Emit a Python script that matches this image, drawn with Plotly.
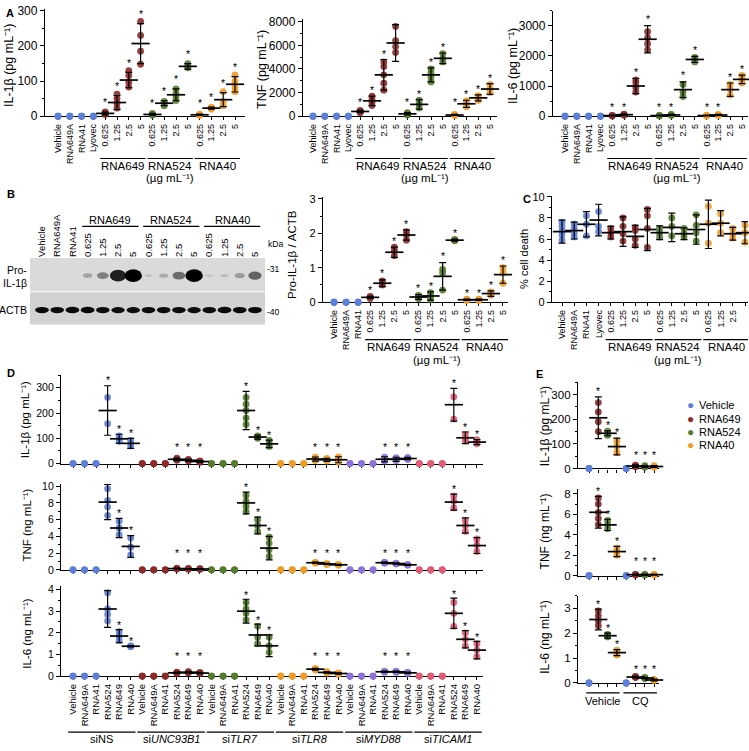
import plotly.graph_objects as go

W, H = 749, 751
FONT = "Liberation Sans, Arial, Helvetica, sans-serif"
BLUE, RED, GREEN, ORANGE, PURPLE, PINK = "#5C80D8", "#8C2A2A", "#547C2C", "#EE9B27", "#8E72DC", "#E25A74"
INV = "mL\u207b\u00b9"

# ---------------- data ----------------
A_labels = ["Vehicle", "RNA649A", "RNA41", "Lyovec", "0.625", "1.25", "2.5", "5",
            "0.625", "1.25", "2.5", "5", "0.625", "1.25", "2.5", "5"]
A_groups = ["RNA649", "RNA524", "RNA40"]
A_colors = [BLUE] * 4 + [RED] * 4 + [GREEN] * 4 + [ORANGE] * 4
A_sig = [0] * 4 + [1] * 12

A1_pts = [[0, 0, 0], [0, 0, 0], [0, 0, 0], [0, 0, 0],
          [5, 8, 12], [23, 37, 51, 63], [83, 97, 116, 130], [148, 185, 230, 270],
          [3, 5, 8], [30, 37, 42], [45, 55, 65, 78], [138, 142, 150],
          [2, 4, 6], [20, 23, 26], [30, 42, 70], [70, 82, 100, 118]]
A1_mean = [None] * 4 + [8, 39, 103, 207, 5, 37, 61, 142, 4, 23, 47, 91]
A1_sd = [0] * 4 + [4, 20, 22, 57, 3, 7, 17, 8, 2, 3, 20, 22]

A2_pts = [[0, 0, 0], [0, 0, 0], [0, 0, 0], [0, 0, 0],
          [300, 400, 500], [900, 1150, 1450, 1700], [2200, 2800, 3500, 4200, 4600], [5400, 5900, 6400, 7600],
          [100, 200, 300], [700, 1000, 1350], [2900, 3300, 3700, 4000], [4600, 4900, 5300],
          [50, 100, 150], [800, 1050, 1300], [1350, 1550, 1750], [2000, 2300, 2700]]
A2_mean = [None] * 4 + [400, 1300, 3500, 6200, 200, 1000, 3500, 4900, 100, 1050, 1550, 2300]
A2_sd = [0] * 4 + [100, 400, 1300, 1550, 100, 400, 600, 450, 50, 300, 250, 450]

A3_pts = [[0, 0, 0], [0, 0, 0], [0, 0, 0], [0, 0, 0],
          [10, 20, 30], [30, 50, 70], [800, 950, 1100, 1200], [2200, 2400, 2600, 2800],
          [10, 20, 30], [20, 40, 60], [650, 800, 1050], [1800, 1880, 1950],
          [10, 20, 30], [20, 40, 60], [700, 900, 1050], [1100, 1250, 1350]]
A3_mean = [None] * 4 + [20, 50, 1000, 2550, 20, 40, 880, 1880, 20, 40, 880, 1220]
A3_sd = [0] * 4 + [10, 20, 250, 450, 10, 20, 260, 100, 10, 20, 220, 140]

# Blot (panel B)
blot_lanes = ["Vehicle", "RNA649A", "RNA41", "0.625", "1.25", "2.5", "5",
              "0.625", "1.25", "2.5", "5", "0.625", "1.25", "2.5", "5"]
pro_intensity = [0, 0, 0, 0.25, 0.45, 0.9, 1.0, 0.07, 0.2, 0.55, 1.0, 0.05, 0.1, 0.3, 0.6]
actb_intensity = [0.9, 0.88, 0.92, 0.92, 0.88, 0.85, 0.85, 0.88, 0.88, 0.88, 0.85, 0.88, 0.92, 0.9, 0.9]

B_labels = blot_lanes
B_colors = [BLUE] * 3 + [RED] * 4 + [GREEN] * 4 + [ORANGE] * 4
B_sig = [0] * 3 + [1] * 12
B_pts = [[0, 0, 0], [0, 0, 0], [0, 0, 0],
         [0.11, 0.14, 0.17], [0.5, 0.55, 0.62], [1.35, 1.5, 1.6], [1.8, 1.95, 2.05],
         [0.1, 0.15, 0.2], [0.08, 0.18, 0.28], [0.35, 0.85, 0.95], [1.78, 1.8, 1.82],
         [0.05, 0.07, 0.09], [0.05, 0.07, 0.09], [0.2, 0.25, 0.3], [0.55, 0.85, 1.0]]
B_mean = [None] * 3 + [0.14, 0.55, 1.45, 1.95, 0.15, 0.18, 0.75, 1.8, 0.07, 0.07, 0.25, 0.8]
B_sd = [0] * 3 + [0.03, 0.1, 0.15, 0.15, 0.07, 0.12, 0.4, 0.03, 0.02, 0.02, 0.08, 0.25]

# Panel C (% cell death)
C_pts = [[5.9, 6.4, 6.8, 7.2, 7.6], [6.2, 6.6, 7.0, 7.4], [6.3, 7.4, 8.2], [6.7, 7.2, 8.6],
         [6.2, 6.6, 7.0], [5.8, 6.5, 7.2, 8.0], [5.4, 6.0, 6.8, 7.1], [5.2, 7.0, 8.2, 8.8],
         [6.2, 6.6, 7.0], [6.3, 7.2, 8.0], [6.2, 6.5, 7.0], [5.8, 6.6, 7.3, 8.3],
         [5.6, 7.5, 9.1], [6.6, 7.5, 8.4], [6.1, 6.5, 7.0], [5.7, 6.6, 7.3]]
C_mean = [6.7, 6.8, 7.4, 7.8, 6.6, 6.7, 6.25, 6.9, 6.6, 7.1, 6.5, 6.9, 7.4, 7.5, 6.5, 6.6]
C_sd = [1.1, 0.8, 1.2, 1.5, 0.6, 1.4, 1.05, 2.0, 0.65, 1.35, 0.55, 1.4, 2.3, 1.2, 0.6, 1.05]
C_sig = [0] * 16

# Panel D (siRNA knockdowns)
D_cats = ["Vehicle", "RNA649A", "RNA41", "RNA524", "RNA649", "RNA40"]
D_groups = ["siNS", "si<i>UNC93B1</i>", "si<i>TLR7</i>", "si<i>TLR8</i>", "si<i>MYD88</i>", "si<i>TICAM1</i>"]
D_group_colors = [BLUE, RED, GREEN, ORANGE, PURPLE, PINK]
D_sig = [0, 0, 0, 1, 1, 1] * 6

D1_pts = [[0, 0, 0], [0, 0, 0], [0, 0, 0], [158, 262], [88, 98, 110], [70, 80, 92],
          [0, 0, 0], [0, 0, 0], [0, 0, 0], [13, 17, 21], [10, 13, 16], [5, 8, 11],
          [0, 0, 0], [0, 0, 0], [0, 0, 0], [155, 180, 210, 235, 262], [100, 105, 110], [68, 78, 92],
          [0, 0, 0], [0, 0, 0], [0, 0, 0], [12, 18, 25], [10, 15, 20], [6, 15, 26],
          [0, 0, 0], [0, 0, 0], [0, 0, 0], [10, 17, 25], [11, 17, 23], [16, 20, 24],
          [0, 0, 0], [0, 0, 0], [0, 0, 0], [176, 264], [90, 102, 115], [78, 85, 95]]
D1_mean = [None, None, None, 210, 98, 80, None, None, None, 17, 13, 8,
           None, None, None, 210, 105, 78, None, None, None, 18, 15, 15,
           None, None, None, 17, 17, 20, None, None, None, 233, 102, 85]
D1_sd = [0, 0, 0, 98, 18, 20, 0, 0, 0, 5, 4, 4, 0, 0, 0, 76, 8, 15,
         0, 0, 0, 8, 6, 12, 0, 0, 0, 10, 8, 5, 0, 0, 0, 65, 23, 10]

D2_pts = [[0, 0, 0], [0, 0, 0], [0, 0, 0], [6.5, 7.5, 8.3, 9.7], [4.2, 5.0, 5.8], [1.8, 2.7, 3.8],
          [0, 0, 0], [0, 0, 0], [0, 0, 0], [0.1, 0.15, 0.2], [0.08, 0.12, 0.16], [0.06, 0.1, 0.14],
          [0, 0, 0], [0, 0, 0], [0, 0, 0], [7.0, 7.6, 8.2, 8.9], [4.6, 5.3, 6.0], [1.6, 2.4, 3.2, 3.9],
          [0, 0, 0], [0, 0, 0], [0, 0, 0], [0.8, 0.85, 0.9], [0.65, 0.7, 0.75], [0.55, 0.6, 0.65],
          [0, 0, 0], [0, 0, 0], [0, 0, 0], [0.78, 0.85, 0.92], [0.7, 0.75, 0.8], [0.55, 0.6, 0.65],
          [0, 0, 0], [0, 0, 0], [0, 0, 0], [7.4, 8.2, 8.8], [4.6, 5.3, 5.9], [2.2, 3.0, 3.7]]
D2_mean = [None, None, None, 8.1, 5.0, 2.8, None, None, None, 0.15, 0.12, 0.1,
           None, None, None, 8.0, 5.3, 2.6, None, None, None, 0.85, 0.7, 0.6,
           None, None, None, 0.85, 0.75, 0.6, None, None, None, 8.1, 5.3, 2.9]
D2_sd = [0, 0, 0, 2.1, 1.15, 1.3, 0, 0, 0, 0.05, 0.04, 0.04, 0, 0, 0, 1.3, 1.0, 1.4,
         0, 0, 0, 0.06, 0.06, 0.06, 0, 0, 0, 0.08, 0.08, 0.06, 0, 0, 0, 0.95, 0.9, 0.95]

D3_pts = [[0, 0, 0], [0, 0, 0], [0, 0, 0], [2.55, 2.85, 3.1, 3.85], [1.65, 1.85, 2.05], [1.36, 1.38, 1.4],
          [0, 0, 0], [0, 0, 0], [0, 0, 0], [0.12, 0.15, 0.18], [0.15, 0.18, 0.21], [0.11, 0.14, 0.17],
          [0, 0, 0], [0, 0, 0], [0, 0, 0], [2.6, 2.9, 3.1, 3.4], [1.5, 1.8, 2.3], [1.1, 1.4, 1.8],
          [0, 0, 0], [0, 0, 0], [0, 0, 0], [0.28, 0.32, 0.36], [0.14, 0.17, 0.2], [0.09, 0.12, 0.15],
          [0, 0, 0], [0, 0, 0], [0, 0, 0], [0.17, 0.2, 0.23], [0.17, 0.2, 0.23], [0.12, 0.15, 0.18],
          [0, 0, 0], [0, 0, 0], [0, 0, 0], [2.3, 2.9, 3.4], [1.4, 1.7, 2.0], [0.9, 1.2, 1.5]]
D3_mean = [None, None, None, 3.1, 1.85, 1.38, None, None, None, 0.15, 0.18, 0.14,
           None, None, None, 3.0, 1.9, 1.4, None, None, None, 0.32, 0.17, 0.12,
           None, None, None, 0.2, 0.2, 0.15, None, None, None, 2.9, 1.7, 1.2]
D3_sd = [0, 0, 0, 0.85, 0.3, 0.03, 0, 0, 0, 0.03, 0.03, 0.03, 0, 0, 0, 0.55, 0.5, 0.5,
         0, 0, 0, 0.04, 0.03, 0.03, 0, 0, 0, 0.03, 0.03, 0.03, 0, 0, 0, 0.7, 0.4, 0.4]

# Panel E (chloroquine)
E_groups = ["Vehicle", "CQ"]
E_series = ["Vehicle", "RNA649", "RNA524", "RNA40"]
E_series_colors = [BLUE, RED, GREEN, ORANGE]
E_sig = [0, 1, 1, 1] * 2
E1_pts = [[0, 0, 0], [150, 190, 230, 268], [135, 143, 152], [65, 90, 112],
          [0, 0, 0], [7, 10, 13], [5, 8, 11], [5, 8, 11]]
E1_mean = [None, 206, 143, 89, None, 10, 8, 8]
E1_sd = [0, 85, 10, 34, 0, 5, 4, 4]
E2_pts = [[0, 0, 0], [5.0, 5.6, 6.2, 7.0, 7.6], [4.6, 5.0, 5.4], [2.0, 2.4, 2.7],
          [0, 0, 0], [0.08, 0.1, 0.12], [0.08, 0.1, 0.12], [0.08, 0.1, 0.12]]
E2_mean = [None, 6.2, 4.97, 2.36, None, 0.1, 0.1, 0.1]
E2_sd = [0, 1.55, 0.55, 0.5, 0, 0.03, 0.03, 0.03]
E3_pts = [[0, 0, 0], [2.3, 2.5, 2.7, 2.9], [1.85, 1.9, 1.95], [1.12, 1.22, 1.32],
          [0, 0, 0], [0.22, 0.24, 0.26], [0.18, 0.2, 0.22], [0.1, 0.12, 0.14]]
E3_mean = [None, 2.55, 1.9, 1.22, None, 0.24, 0.2, 0.12]
E3_sd = [0, 0.42, 0.1, 0.12, 0, 0.03, 0.03, 0.04]

# ---------------- helpers ----------------
def fx(px):
    return px / W


def fy(py):
    return 1 - py / H


fig = go.Figure()
layout = {}
shapes = []
annots = []


def xname(i):
    return "x" if i == 1 else f"x{i}"


def yname(i):
    return "y" if i == 1 else f"y{i}"


def make_axes(i, xl, xf, sp, n, xr, y0, ppu, ymax, dtick, mdtick,
              ticktext=None, tfs=9, yfs=11):
    xlast = xf + (n - 1) * sp
    xrange = [-(xf - xl) / sp, (n - 1) + (xr - xlast) / sp]
    ytop = y0 - ymax * ppu
    xa = dict(domain=[fx(xl), fx(xr)], range=xrange, anchor=yname(i), showline=True,
              linecolor="black", linewidth=1.3, ticks="outside", ticklen=3, tickwidth=1,
              tickcolor="black", tickvals=list(range(n)), showgrid=False, zeroline=False,
              layer="below traces", fixedrange=True)
    if ticktext is not None:
        xa.update(ticktext=ticktext, tickangle=-90, showticklabels=True,
                  tickfont=dict(size=tfs, color="black", family=FONT))
    else:
        xa.update(showticklabels=False)
    ya = dict(domain=[fy(y0), fy(ytop)], range=[0, ymax], anchor=xname(i), showline=True,
              linecolor="black", linewidth=1.3, ticks="outside", ticklen=4, tickwidth=1,
              tickcolor="black", tick0=0, dtick=dtick, showgrid=False, zeroline=False,
              tickfont=dict(size=yfs, color="black", family=FONT), layer="below traces",
              minor=dict(dtick=mdtick, ticks="outside", ticklen=2, tickcolor="black", showgrid=False),
              fixedrange=True)
    layout["xaxis" if i == 1 else f"xaxis{i}"] = xa
    layout["yaxis" if i == 1 else f"yaxis{i}"] = ya


def dot_panel(i, pts, means, sds, colors, sig, ymax, gap, floor, msize=6.8):
    xs, ys, cs = [], [], []
    for k, p in enumerate(pts):
        for v in p:
            xs.append(k)
            ys.append(v)
            cs.append(colors[k])
    fig.add_trace(go.Scatter(x=xs, y=ys, mode="markers", xaxis=xname(i), yaxis=yname(i),
                             marker=dict(size=msize, color=cs, opacity=0.9, line=dict(width=0)),
                             cliponaxis=False, showlegend=False, hoverinfo="skip"))
    mx = [k for k, m in enumerate(means) if m is not None]
    fig.add_trace(go.Scatter(x=mx, y=[means[k] for k in mx], mode="markers",
                             xaxis=xname(i), yaxis=yname(i),
                             marker=dict(symbol="line-ew", size=13, color="black",
                                         line=dict(width=1.7, color="black")),
                             error_y=dict(type="data", array=[sds[k] for k in mx], visible=True,
                                          color="black", thickness=1.2, width=3.5),
                             cliponaxis=False, showlegend=False, hoverinfo="skip"))
    for k in mx:
        if sig[k]:
            annots.append(dict(x=k, y=max(means[k] + sds[k] + gap * ymax, floor * ymax),
                               xref=xname(i), yref=yname(i), text="*", showarrow=False,
                               xanchor="center", yanchor="middle",
                               font=dict(size=10.5, color="black", family=FONT)))


def text(x, y, s, size=10.5, angle=0, xanchor="center", bold=False, yanchor="middle", xref="paper"):
    annots.append(dict(x=x if xref != "paper" else fx(x), y=fy(y), xref=xref, yref="paper",
                       text=f"<b>{s}</b>" if bold else s, showarrow=False,
                       textangle=angle, xanchor=xanchor, yanchor=yanchor,
                       font=dict(size=size, color="black", family=FONT)))


def group_line(i, a, b, py, pad=0.42):
    shapes.append(dict(type="line", xref=xname(i), yref="paper", x0=a - pad, x1=b + pad,
                       y0=fy(py), y1=fy(py), line=dict(color="black", width=1.2)))


# ---------------- panel A ----------------
make_axes(1, 45, 58, 11.8, 16, 245, 113, 107 / 300, 305, 100, 50, A_labels, 9, yfs=12)
make_axes(2, 303, 313, 11.8, 16, 497, 113, 96 / 8000, 8200, 2000, 1000, A_labels, 9, yfs=12)
make_axes(3, 553, 565, 11.8, 16, 748, 113, 92 / 3000, 3500, 1000, 500, A_labels, 9, yfs=12)
dot_panel(1, A1_pts, A1_mean, A1_sd, A_colors, A_sig, 305, 0.09, 0.12)
dot_panel(2, A2_pts, A2_mean, A2_sd, A_colors, A_sig, 8200, 0.06, 0.15)
dot_panel(3, A3_pts, A3_mean, A3_sd, A_colors, A_sig, 3500, 0.06, 0.085)
for i in (1, 2, 3):
    for g, name in enumerate(A_groups):
        a, b = 4 + 4 * g, 7 + 4 * g
        group_line(i, a, b, 156)
        text((a + b) / 2, 164, name, 11.5, xref=xname(i))
    text(9.5, 176, f"(µg {INV})", 11.5, xref=xname(i))
text(9, 62, f"IL-1β (pg {INV})", 12.5, -90)
text(262, 66, f"TNF (pg {INV})", 12.5, -90)
text(513, 62, f"IL-6 (pg {INV})", 12.5, -90)

# ---------------- panel B: blot ----------------
nl = len(blot_lanes)
xl, xf, sp, xr = 30, 42, 15.21, 265
bx0 = -(xf - xl) / sp
bx1 = (nl - 1) + (xr - (xf + (nl - 1) * sp)) / sp
layout["xaxis4"] = dict(domain=[fx(xl), fx(xr)], range=[bx0, bx1],
                        anchor="y4", side="top", tickvals=list(range(nl)), ticktext=blot_lanes,
                        tickangle=-90, ticks="", showline=False, showgrid=False, zeroline=False,
                        tickfont=dict(size=9.5, color="black", family=FONT), fixedrange=True)
layout["yaxis4"] = dict(domain=[fy(325), fy(257)], range=[0, 2], visible=False, anchor="x4",
                        fixedrange=True)
shapes.append(dict(type="rect", xref="x4", yref="y4", x0=bx0, x1=bx1,
                   y0=1.0, y1=2.0, fillcolor="#dadada", line=dict(width=0), layer="below"))
shapes.append(dict(type="rect", xref="x4", yref="y4", x0=bx0, x1=bx1,
                   y0=0.0, y1=0.97, fillcolor="#d2d2d2", line=dict(width=0), layer="below"))
for k in range(nl):
    I = pro_intensity[k]
    if I > 0:
        g = round(205 * (1 - I) ** 0.8)
        w = 0.45 + 0.7 * I
        h = 0.06 + 0.32 * I
        shapes.append(dict(type="circle", xref="x4", yref="y4", x0=k - w / 2, x1=k + w / 2,
                           y0=1.47 - h / 2, y1=1.47 + h / 2, fillcolor=f"rgb({g},{g},{g})",
                           line=dict(width=0)))
    J = actb_intensity[k]
    g = round(90 * (1 - J))
    w = 0.5 + 0.45 * J
    h = 0.1 + 0.1 * J
    shapes.append(dict(type="circle", xref="x4", yref="y4", x0=k - w / 2, x1=k + w / 2,
                       y0=0.44 - h / 2, y1=0.44 + h / 2, fillcolor=f"rgb({g},{g},{g})",
                       line=dict(width=0)))
for g, name in enumerate(A_groups):
    a, b = 3 + 4 * g, 6 + 4 * g
    group_line(4, a, b, 225, pad=0.35)
    text((a + b) / 2, 218, name, 11, xref="x4")
text(29, 269, "Pro-", 10.5, xanchor="right")
text(29, 283, "IL-1β", 10.5, xanchor="right")
text(29, 310, "ACTB", 10.5, xanchor="right")
text(266, 243, "kDa", 8.5, xanchor="left")
text(265, 268, "-31", 8.5, xanchor="left")
text(265, 312, "-40", 8.5, xanchor="left")

# ---------------- panel B: quantification ----------------
make_axes(5, 323, 334, 12.07, 15, 508, 302, 35, 3.05, 1, 0.5, B_labels, 9, yfs=11)
dot_panel(5, B_pts, B_mean, B_sd, B_colors, B_sig, 3.05, 0.06, 0.075)
for g, name in enumerate(A_groups):
    a, b = 3 + 4 * g, 6 + 4 * g
    group_line(5, a, b, 340)
    text((a + b) / 2, 348, name, 11.5, xref="x5")
text(8.5, 361, f"(µg {INV})", 11.5, xref="x5")
text(292, 254, "Pro-IL-1β / ACTB", 11.5, -90)

# ---------------- panel C ----------------
make_axes(6, 552, 562, 12.2, 16, 748, 302, 10.7, 10.1, 2, 1, A_labels, 9, yfs=11)
dot_panel(6, C_pts, C_mean, C_sd, A_colors, C_sig, 10.1, 0.06, 0.1)
for g, name in enumerate(A_groups):
    a, b = 4 + 4 * g, 7 + 4 * g
    group_line(6, a, b, 340)
    text((a + b) / 2, 348, name, 11.5, xref="x6")
text(9.5, 361, f"(µg {INV})", 11.5, xref="x6")
text(524, 258, "% cell death", 11, -90)

# ---------------- panel D ----------------
D_colors = [c for c in D_group_colors for _ in range(6)]
D_labels = D_cats * 6
make_axes(7, 61, 73, 11.54, 36, 483, 466, 77 / 300, 350, 100, 50, None, yfs=10.5)
make_axes(8, 61, 73, 11.54, 36, 483, 574, 8.5, 10.3, 2, 1, None, yfs=10.5)
make_axes(9, 61, 73, 11.54, 36, 483, 682, 22, 4.15, 1, 0.5, D_labels, 9.5, yfs=10.5)
dot_panel(7, D1_pts, D1_mean, D1_sd, D_colors, D_sig, 350, 0.06, 0.19)
dot_panel(8, D2_pts, D2_mean, D2_sd, D_colors, D_sig, 10.3, 0.06, 0.2)
dot_panel(9, D3_pts, D3_mean, D3_sd, D_colors, D_sig, 4.15, 0.05, 0.22)
for g, name in enumerate(D_groups):
    a, b = 6 * g, 6 * g + 5
    group_line(9, a, b, 739)
    text((a + b) / 2, 746, name, 11, xref="x9")
text(25, 422, f"IL-1β (pg {INV})", 11.5, -90)
text(27, 529, f"TNF (ng {INV})", 11.5, -90)
text(27, 639, f"IL-6 (ng {INV})", 11.5, -90)

# ---------------- panel E ----------------
E_colors = E_series_colors * 2
make_axes(10, 578, 589, 9.3, 8, 659, 471, 0.25, 350, 100, 50, None, yfs=11.5)
make_axes(11, 578, 589, 9.3, 8, 659, 580, 10.4, 8.5, 2, 1, None, yfs=11.5)
make_axes(12, 578, 589, 9.3, 8, 659, 689, 25.3, 3.5, 1, 0.5, None, yfs=11.5)
dot_panel(10, E1_pts, E1_mean, E1_sd, E_colors, E_sig, 350, 0.07, 0.155)
dot_panel(11, E2_pts, E2_mean, E2_sd, E_colors, E_sig, 8.5, 0.06, 0.165)
dot_panel(12, E3_pts, E3_mean, E3_sd, E_colors, E_sig, 3.5, 0.06, 0.165)
for g, name in enumerate(E_groups):
    a, b = 4 * g, 4 * g + 3
    group_line(12, a, b, 699, pad=0.3)
    text((a + b) / 2, 707, name, 11, xref="x12")
text(545, 428, f"IL-1β (pg {INV})", 12, -90)
text(545, 535, f"TNF (ng {INV})", 12, -90)
text(545, 643, f"IL-6 (ng {INV})", 12, -90)

# legend
for k, (name, col) in enumerate(zip(E_series, E_series_colors)):
    py = 407 + 13.3 * k
    annots.append(dict(x=fx(690), y=fy(py), xref="paper", yref="paper", text="●", showarrow=False,
                       font=dict(size=12, color=col, family=FONT), xanchor="center", yanchor="middle"))
    text(697, py, name, 11, xanchor="left")

# panel letters
for s, x, y in [("A", 4, 8), ("B", 5, 192), ("C", 521, 197), ("D", 5, 374), ("E", 534, 375)]:
    text(x, y, s, 11, bold=True, xanchor="left")

fig.update_layout(width=W, height=H, margin=dict(l=0, r=0, t=0, b=0),
                  plot_bgcolor="white", paper_bgcolor="white", showlegend=False,
                  shapes=shapes, annotations=annots, font=dict(family=FONT, color="black"),
                  **layout)
fig.write_html("out.html", config={"displayModeBar": False},
               post_script="document.body.style.margin='0';document.body.style.overflow='hidden';")
